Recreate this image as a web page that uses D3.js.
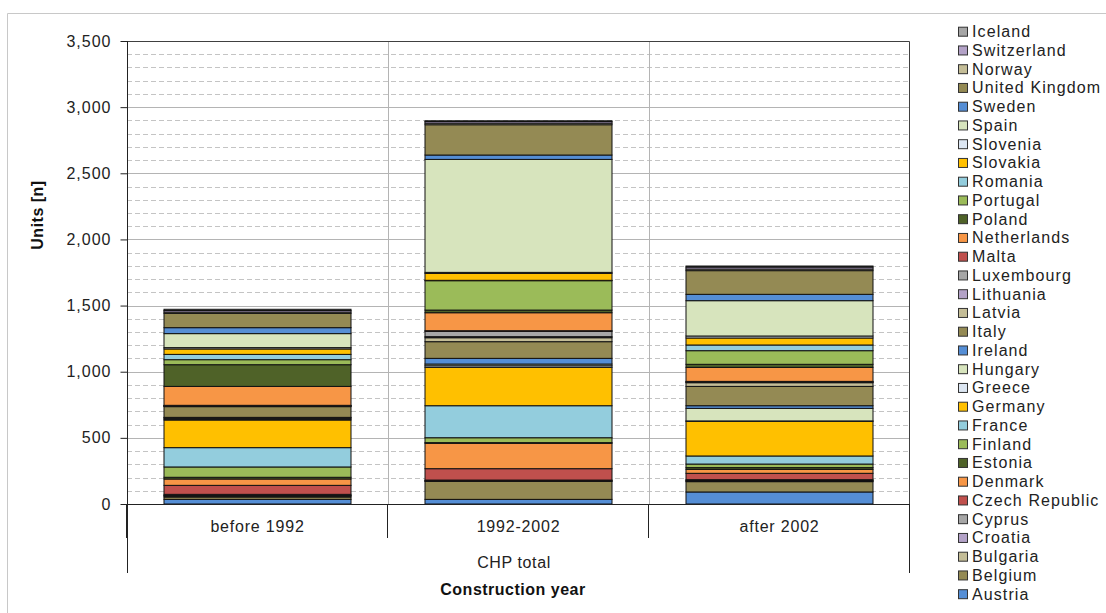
<!DOCTYPE html>
<html>
<head>
<meta charset="utf-8">
<script src="https://cdn.jsdelivr.net/npm/d3@7"></script>
<style>
  html, body { margin: 0; padding: 0; background: #fff; }
  svg { display: block; font-family: "Liberation Sans", Arial, sans-serif; }
</style>
</head>
<body>
<svg id="chart" width="1106" height="613"></svg>
<script>
// ---- data ----
const categories = ["before 1992", "1992-2002", "after 2002"];
const countries = ["Austria","Belgium","Bulgaria","Croatia","Cyprus","Czech Republic","Denmark","Estonia","Finland","France","Germany","Greece","Hungary","Ireland","Italy","Latvia","Lithuania","Luxembourg","Malta","Netherlands","Poland","Portugal","Romania","Slovakia","Slovenia","Spain","Sweden","United Kingdom","Norway","Switzerland","Iceland"];
const colors = ["#558ED5","#948A54","#C4BD97","#B3A2C7","#A6A6A6","#C0504D","#F79646","#4F6228","#9BBB59","#93CDDD","#FFC000","#DCE6F2","#D7E4BD","#558ED5","#948A54","#C4BD97","#B3A2C7","#A6A6A6","#C0504D","#F79646","#4F6228","#9BBB59","#93CDDD","#FFC000","#DCE6F2","#D7E4BD","#558ED5","#948A54","#C4BD97","#B3A2C7","#A6A6A6"];
const before1992 = [35,18,8,3,9,68,48,13,78,146,209,8,8,4,81,3,2,3,2,143,164,38,40,41,10,106,45,108,10,12,9];
const from1992to2002 = [35,136,3,2,5,86,192,5,37,242,290,12,13,43,126,30,8,40,5,136,20,222,3,52,8,854,33,229,12,12,6];
const after2002 = [91,78,5,3,7,48,30,13,27,61,262,3,95,20,146,28,3,4,3,106,23,103,43,53,15,267,48,179,12,15,8];
const yTicks = [0,500,1000,1500,2000,2500,3000,3500];
const yMinor = d3.range(100, 3500, 100).filter(v => v % 500 !== 0);
const groupLabel = "CHP total";
const xTitle = "Construction year";
const yTitle = "Units [n]";

const seriesByCat = [before1992, from1992to2002, after2002];
const rows = categories.map((c, i) => {
  const r = { cat: c };
  countries.forEach((k, j) => r[k] = seriesByCat[i][j]);
  return r;
});

// ---- layout ----
const svg = d3.select("#chart");
const L = 127, R = 910, T = 41, B = 504;
const font = '"Liberation Sans", Arial, sans-serif';

const y = d3.scaleLinear().domain([0, 3500]).range([B, T]);
const xb = d3.scaleBand().domain(categories).range([L, R]).paddingInner(0.2835).paddingOuter(0.2835 / 2);
const xc = d3.scaleBand().domain(categories).range([L, R]).padding(0);

// outer frame lines
svg.append("line").attr("x1", 7.5).attr("x2", 1106).attr("y1", 13.5).attr("y2", 13.5).attr("stroke", "#C8C8C8");
svg.append("line").attr("x1", 7.5).attr("x2", 7.5).attr("y1", 13.5).attr("y2", 613).attr("stroke", "#C8C8C8");

// minor gridlines (dashed)
svg.append("g").selectAll("line").data(yMinor).join("line")
  .attr("x1", L).attr("x2", R)
  .attr("y1", d => Math.round(y(d)) + 0.5).attr("y2", d => Math.round(y(d)) + 0.5)
  .attr("stroke", "#C4C4C4").attr("stroke-dasharray", "5,3");
// major gridlines
svg.append("g").selectAll("line").data(yTicks.filter(d => d > 0 && d < 3500)).join("line")
  .attr("x1", L).attr("x2", R)
  .attr("y1", d => Math.round(y(d)) + 0.5).attr("y2", d => Math.round(y(d)) + 0.5)
  .attr("stroke", "#B4B4B4");
// vertical category gridlines
svg.append("g").selectAll("line").data(categories.slice(1)).join("line")
  .attr("x1", d => Math.round(xc(d)) + 0.5).attr("x2", d => Math.round(xc(d)) + 0.5)
  .attr("y1", T).attr("y2", B)
  .attr("stroke", "#B4B4B4");

// plot border top/right
svg.append("path")
  .attr("d", `M${L},${T + 0.5}H${R - 0.5}V${B}`)
  .attr("fill", "none").attr("stroke", "#404040");

// stacked bars
const stack = d3.stack().keys(countries);
const layers = stack(rows);
const barG = svg.append("g");
layers.forEach((layer, j) => {
  barG.append("g").selectAll("rect").data(layer).join("rect")
    .attr("x", d => xb(d.data.cat))
    .attr("width", xb.bandwidth())
    .attr("y", d => y(d[1]))
    .attr("height", d => Math.max(0, y(d[0]) - y(d[1])))
    .attr("fill", colors[j])
    .attr("stroke", "#111")
    .attr("stroke-width", 1);
});

// y axis
const yAxis = d3.axisLeft(y).tickValues(yTicks).tickSize(7).tickPadding(10)
  .tickFormat(d3.format(","));
const yg = svg.append("g").attr("transform", `translate(${L + 0.5},0)`).call(yAxis);
yg.select(".domain").remove();
yg.selectAll(".tick line").attr("stroke", "#222");
yg.selectAll(".tick text").attr("font-size", 16).attr("font-family", font)
  .attr("fill", "#222").style("letter-spacing", "1px").attr("dx", 1);
svg.append("line").attr("x1", L + 0.5).attr("x2", L + 0.5).attr("y1", T).attr("y2", 573).attr("stroke", "#222");

// x axis
svg.append("line").attr("x1", L).attr("x2", R).attr("y1", B + 0.5).attr("y2", B + 0.5).attr("stroke", "#222");
const xEdges = categories.map(c => xc(c)).concat([R]);
svg.append("g").selectAll("line").data(xEdges).join("line")
  .attr("x1", d => Math.round(d) - 0.5).attr("x2", d => Math.round(d) - 0.5)
  .attr("y1", B).attr("y2", 538)
  .attr("stroke", "#222");
svg.append("line").attr("x1", R - 0.5).attr("x2", R - 0.5).attr("y1", B).attr("y2", 573).attr("stroke", "#222");

svg.append("g").selectAll("text").data(categories).join("text")
  .attr("x", d => xc(d) + xc.bandwidth() / 2)
  .attr("y", 532)
  .attr("text-anchor", "middle")
  .attr("font-size", 16).attr("fill", "#222")
  .style("letter-spacing", "0.8px")
  .text(d => d);

svg.append("text").attr("x", 514).attr("y", 568).attr("text-anchor", "middle")
  .attr("font-size", 16).attr("fill", "#222").style("letter-spacing", "0.6px").text(groupLabel);
svg.append("text").attr("x", 513).attr("y", 595).attr("text-anchor", "middle")
  .attr("font-size", 16).attr("font-weight", "bold").attr("fill", "#111").style("letter-spacing", "0.5px").text(xTitle);

svg.append("text").attr("transform", "translate(43,215) rotate(-90)")
  .attr("text-anchor", "middle").attr("font-size", 16).attr("font-weight", "bold")
  .attr("fill", "#111").style("letter-spacing", "0.5px").text(yTitle);

// legend (reverse order, Iceland on top)
const legendItems = countries.map((c, i) => ({ name: c, color: colors[i] })).reverse();
const lg = svg.append("g").selectAll("g").data(legendItems).join("g")
  .attr("transform", (d, i) => `translate(958,${31.2 + i * 18.75})`);
lg.append("rect").attr("x", 0.5).attr("y", -4).attr("width", 9).attr("height", 9)
  .attr("fill", d => d.color).attr("stroke", "#333");
lg.append("text").attr("x", 14).attr("y", 6)
  .attr("font-size", 16).attr("fill", "#222").style("letter-spacing", "1.1px")
  .text(d => d.name);
</script>
</body>
</html>
